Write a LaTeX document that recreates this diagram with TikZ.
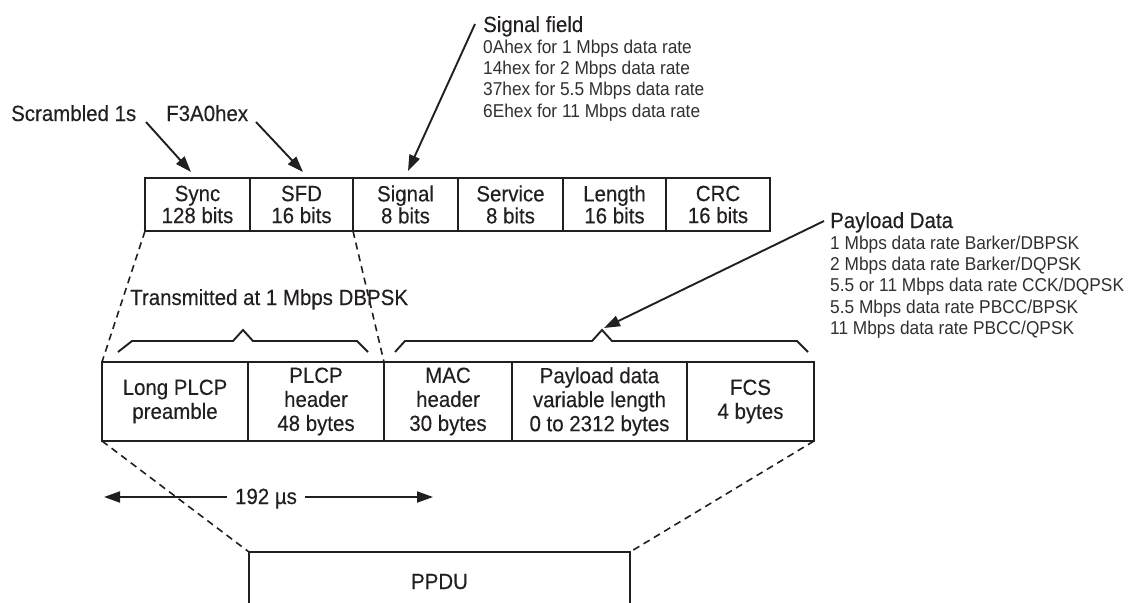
\documentclass[tikz,border=0pt]{standalone}
\usepackage{fontspec}
\setmainfont{Liberation Sans}[FakeStretch=0.93, FakeBold=0.25]
\newfontfamily\notefam{Liberation Sans}[FakeStretch=0.93]
\usetikzlibrary{arrows.meta}
\definecolor{ink}{RGB}{35,31,32}
\definecolor{softink}{RGB}{50,47,48}
\newcommand\lblfont{\fontsize{22}{23}\selectfont}
\newcommand\notefont{\notefam\fontsize{18.6}{21.3}\selectfont}
\begin{document}
\begin{tikzpicture}[x=1pt,y=-1pt,
  every node/.style={text=ink},
  cell/.style={draw=ink, line width=2.1pt, inner sep=0pt, outer sep=0pt,
               align=center},
  toprow/.style={cell, minimum height=53pt, font=\fontsize{22}{22}\selectfont},
  botrow/.style={cell, minimum height=79pt, font=\fontsize{22}{24}\selectfont},
  lbl/.style={anchor=base west, font=\lblfont, inner sep=0pt},
  note/.style={anchor=base west, font=\notefont, inner sep=0pt, text=softink},
  ptr/.style={draw=ink, line width=1.9pt, -{Triangle[length=16pt,width=11pt]}},
  zoomline/.style={draw=ink, line width=1.6pt, dash pattern=on 7pt off 5pt},
  bracket/.style={draw=ink, line width=1.9pt, line join=miter}]
\useasboundingbox (0,0) rectangle (1129,602);

% PLCP frame fields
\node[toprow, minimum width=105pt] (sync)    at (197.5,204.5) {Sync\\128 bits};
\node[toprow, minimum width=103pt] (sfd)     at (301.5,204.5) {SFD\\16 bits};
\node[toprow, minimum width=105pt] (signal)  at (405.5,204.5) {Signal\\8 bits};
\node[toprow, minimum width=105pt] (service) at (510.5,204.5) {Service\\8 bits};
\node[toprow, minimum width=103pt] (length)  at (614.5,204.5) {Length\\16 bits};
\node[toprow, minimum width=104pt] (crc)     at (718,204.5)   {CRC\\16 bits};

% PPDU fields
\node[botrow, minimum width=146pt] (long) at (175,401.5)   {Long PLCP\\preamble};
\node[botrow, minimum width=136pt] (plcp) at (316,401.5)   {PLCP\\header\\48 bytes};
\node[botrow, minimum width=128pt] (mac)  at (448,401.5)   {MAC\\header\\30 bytes};
\node[botrow, minimum width=175pt] (pay)  at (599.5,401.5) {Payload data\\variable length\\0 to 2312 bytes};
\node[botrow, minimum width=127pt] (fcs)  at (750.5,401.5) {FCS\\4 bytes};

% Annotations above the PLCP fields
\node[lbl] (scr) at (11,121)  {Scrambled 1s};
\node[lbl] (f3a) at (166,121) {F3A0hex};
\node[lbl] (sigf) at (483,32) {Signal field};
\foreach \t [count=\i] in {0Ahex for 1 Mbps data rate,
                            14hex for 2 Mbps data rate,
                            37hex for 5.5 Mbps data rate,
                            6Ehex for 11 Mbps data rate}
  \node[note] (sig\i) at (483,{32+21.3*\i}) {\t};

\node[lbl] (payf) at (830,228) {Payload Data};
\foreach \t [count=\i] in {1 Mbps data rate Barker/DBPSK,
                            2 Mbps data rate Barker/DQPSK,
                            5.5 or 11 Mbps data rate CCK/DQPSK,
                            5.5 Mbps data rate PBCC/BPSK,
                            11 Mbps data rate PBCC/QPSK}
  \node[note] (pay\i) at (830,{228+21.3*\i}) {\t};

\node[lbl] (tx) at (130,305) {Transmitted at 1 Mbps DBPSK};

% Pointer arrows
\coordinate (scrS) at (146,122);  \coordinate (scrT) at (191,172);
\coordinate (f3aS) at (256,122);  \coordinate (f3aT) at (303,172);
\coordinate (sigS) at (475,24);   \coordinate (sigT) at (408,171);
\coordinate (payS) at (824,221);  \coordinate (payT) at (604,328);
\draw[ptr] (scrS) -- (scrT);
\draw[ptr] (f3aS) -- (f3aT);
\draw[ptr] (sigS) -- (sigT);
\draw[ptr] (payS) -- (payT);

% Brackets over the PPDU fields
\draw[bracket] (118,352) -- (132,341) -- (233,341) -- (243,330) -- (253,341)
               -- (357,341) -- (368,352);
\draw[bracket] (395,352) -- (405,341) -- (592,341) -- (602,330) -- (612,341)
               -- (797,341) -- (808,352);

% Expansion lines
\coordinate (pl) at (249,552);
\coordinate (pr) at (630,552);
\draw[zoomline] (sync.south west) -- (long.north west);
\draw[zoomline] (sfd.south east) -- (plcp.north east);
\draw[zoomline] (long.south west) -- (pl);
\draw[zoomline] (fcs.south east) -- (pr);

% PPDU block
\draw[draw=ink, line width=2.1pt] (249,603) -- (pl) -- (pr) -- (630,603);
\node[anchor=base, font=\lblfont, inner sep=0pt] (ppdu) at (439.5,589) {PPDU};

% Duration
\node[anchor=base, font=\lblfont, inner sep=8pt] (dur) at (266,504) {192 µs};
\coordinate (durL) at (104,497);
\coordinate (durR) at (433,497);
\draw[ptr] (dur.west |- durL) -- (durL);
\draw[ptr] (dur.east |- durR) -- (durR);
\end{tikzpicture}
\end{document}
